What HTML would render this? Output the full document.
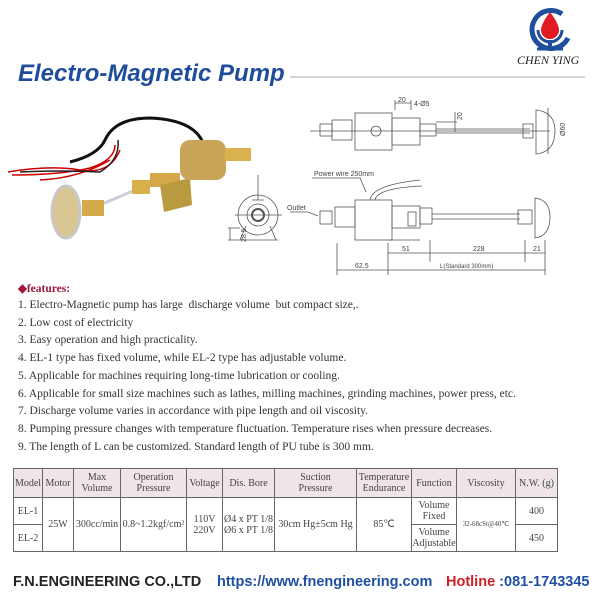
<!DOCTYPE html>
<html><head><meta charset="utf-8">
<style>
body{margin:0;width:600px;height:600px;background:#fff;position:relative;overflow:hidden;font-family:"Liberation Serif",serif;color:#333}
.a{position:absolute;white-space:nowrap}
table{position:absolute;left:13px;top:468px;border-collapse:collapse;font-family:"Liberation Serif",serif;font-size:10px;color:#444;width:545px}
td{border:1px solid #666;text-align:center;padding:0;line-height:11px}
tr.h td{background:#efe4ea;height:28px}
</style></head><body>
<svg class="a" style="left:0;top:0" width="600" height="300">
 <!-- logo -->
 <path d="M562 14 A19 19 0 1 0 568 38" fill="none" stroke="#1d4f9c" stroke-width="5"/>
 <path d="M538 30 A12 12 0 0 0 562 30" fill="none" stroke="#1d4f9c" stroke-width="3"/>
 <path d="M550 12 Q541 24 541 30 A9 9 0 0 0 559 30 Q559 24 550 12Z" fill="#e01b24"/>
 <rect x="548" y="40" width="4" height="9" fill="#1d4f9c"/>
 <path d="M537 49 H563" stroke="#1d4f9c" stroke-width="3"/>
 <line x1="290" y1="77" x2="585" y2="77" stroke="#aaa" stroke-width="1"/>
 <!-- photo -->
 <path d="M205 150 Q200 120 150 118 Q115 118 105 140 Q98 155 70 162" fill="none" stroke="#111" stroke-width="3"/>
 <path d="M8 172 Q50 165 80 170 Q110 175 120 150 M12 175 Q60 175 90 168 Q115 160 115 145 M40 180 Q80 178 110 160" fill="none" stroke="#c00" stroke-width="1.5"/>
 <path d="M20 172 Q60 170 100 172 Q120 160 118 140" fill="none" stroke="#222" stroke-width="1.5"/>
 <line x1="100" y1="205" x2="135" y2="190" stroke="#ccd" stroke-width="3"/>
 <ellipse cx="66" cy="212" rx="14" ry="26" fill="#d9c692" stroke="#c8c8c8" stroke-width="3"/>
 <rect x="82" y="200" width="22" height="16" fill="#d4a94a"/>
 <rect x="132" y="180" width="18" height="14" fill="#d8b04c"/>
 <rect x="150" y="173" width="30" height="14" fill="#d4a84a"/>
 <path d="M160 185 L190 178 L192 205 L164 212 Z" fill="#b99a3f"/>
 <rect x="180" y="140" width="46" height="40" rx="10" fill="#c9a55a"/>
 <rect x="225" y="148" width="26" height="13" fill="#d9b14f"/>
 <!-- side view -->
 <g fill="none" stroke="#555" stroke-width="0.8">
 <circle cx="258" cy="215" r="20"/><circle cx="258" cy="215" r="11"/><circle cx="258" cy="215" r="6" stroke-width="2"/>
 <path d="M240 240 L246 226 M276 240 L270 226 M238 240 H278 M258 175 V200 M252 200 H264 M235 215 H282 M228 228 H240 M228 240 H238 M230 228 V240"/>
 </g>
 <text x="246" y="242" font-size="7" font-family="Liberation Sans" fill="#444" transform="rotate(-90 246 242)">28.5</text>
 <!-- top view -->
 <g fill="none" stroke="#555" stroke-width="0.8">
 <rect x="320" y="124" width="12" height="12"/><rect x="332" y="120" width="20" height="20"/>
 <rect x="355" y="113" width="37" height="37"/><circle cx="376" cy="131" r="5"/>
 <rect x="392" y="118" width="28" height="27"/>
 <rect x="420" y="124" width="16" height="12"/>
 <path d="M436 129 H530 M436 133 H530 M310 131 H550"/>
 <rect x="523" y="124" width="10" height="14"/>
 <path d="M536 110 Q555 112 555 131 Q555 152 536 154 Z"/>
 <path d="M395 100 V110 M411 100 V110 M395 103 H411 M436 122 H457 M455 112 V132 M548 108 V154"/>
 </g>
 <text x="398" y="102" font-size="7" font-family="Liberation Sans" fill="#444">20</text>
 <text x="414" y="106" font-size="7" font-family="Liberation Sans" fill="#444">4-Ø5</text>
 <text x="462" y="120" font-size="7" font-family="Liberation Sans" fill="#444" transform="rotate(-90 462 120)">20</text>
 <text x="565" y="136" font-size="7" font-family="Liberation Sans" fill="#444" transform="rotate(-90 565 136)">Ø60</text>
 <!-- front view -->
 <g fill="none" stroke="#555" stroke-width="0.8">
 <rect x="320" y="211" width="12" height="13"/><rect x="335" y="207" width="20" height="20"/>
 <rect x="355" y="200" width="37" height="40"/>
 <rect x="392" y="206" width="28" height="22"/><rect x="408" y="212" width="8" height="14"/>
 <rect x="420" y="208" width="12" height="16"/>
 <path d="M432 214 H520 M432 219 H520"/>
 <rect x="518" y="210" width="14" height="14"/>
 <path d="M535 198 Q550 200 550 217 Q550 236 535 238 Z"/>
 <path d="M370 200 Q372 185 420 180 M375 200 Q377 188 422 186"/>
 <path d="M312 178 H360 L366 192 M290 212 H308 L318 216"/>
 <path d="M337 243 V275 M388 243 V275 M388 250 V262 M430 240 V262 M525 240 V262 M545 240 V275 M388 253 H545 M337 270 H545 M388 240 H420"/>
 </g>
 <text x="314" y="176" font-size="7" font-family="Liberation Sans" fill="#444">Power wire  250mm</text>
 <text x="287" y="210" font-size="7" font-family="Liberation Sans" fill="#444">Outlet</text>
 <text x="402" y="251" font-size="7" font-family="Liberation Sans" fill="#444">51</text>
 <text x="473" y="251" font-size="7" font-family="Liberation Sans" fill="#444">228</text>
 <text x="533" y="251" font-size="7" font-family="Liberation Sans" fill="#444">21</text>
 <text x="355" y="268" font-size="7" font-family="Liberation Sans" fill="#444">62.5</text>
 <text x="440" y="268" font-size="6" font-family="Liberation Sans" fill="#444">L(Standard 300mm)</text>
</svg>
<div class="a" style="left:517px;top:53px;font-size:12px;font-style:italic;color:#222">CHEN YING</div>
<div class="a" style="left:18px;top:60px;font:italic bold 24px 'Liberation Sans',sans-serif;color:#1f4d9c">Electro-Magnetic Pump</div>
<div class="a" style="left:18px;top:281px;font-size:11.5px;font-weight:bold;color:#a0153a">◆features:</div>
<div class="a" style="left:18px;top:297px;font-size:11.5px;line-height:17.7px;color:#333">
1. Electro-Magnetic pump has large&nbsp; discharge volume&nbsp; but compact size,.<br>
2. Low cost of electricity<br>
3. Easy operation and high practicality.<br>
4. EL-1 type has fixed volume, while EL-2 type has adjustable volume.<br>
5. Applicable for machines requiring long-time lubrication or cooling.<br>
6. Applicable for small size machines such as lathes, milling machines, grinding machines, power press, etc.<br>
7. Discharge volume varies in accordance with pipe length and oil viscosity.<br>
8. Pumping pressure changes with temperature fluctuation. Temperature rises when pressure decreases.<br>
9. The length of L can be customized. Standard length of PU tube is 300 mm.</div>
<table>
<tr class="h"><td style="width:28px">Model</td><td style="width:30px">Motor</td><td style="width:46px">Max<br>Volume</td><td style="width:65px">Operation<br>Pressure</td><td style="width:35px">Voltage</td><td style="width:51px">Dis. Bore</td><td style="width:81px">Suction<br>Pressure</td><td style="width:54px">Temperature<br>Endurance</td><td style="width:44px">Function</td><td style="width:58px">Viscosity</td><td>N.W. (g)</td></tr>
<tr style="height:27px"><td>EL-1</td><td rowspan="2">25W</td><td rowspan="2">300cc/min</td><td rowspan="2">0.8~1.2kgf/cm²</td><td rowspan="2">110V<br>220V</td><td rowspan="2">Ø4 x PT 1/8<br>Ø6 x PT 1/8</td><td rowspan="2">30cm Hg±5cm Hg</td><td rowspan="2">85℃</td><td>Volume<br>Fixed</td><td rowspan="2" style="font-size:7px">32-68cSt@40℃</td><td>400</td></tr>
<tr style="height:27px"><td>EL-2</td><td>Volume<br>Adjustable</td><td>450</td></tr>
</table>
<div class="a" style="left:13px;top:574px;font:bold 14.5px 'Liberation Sans',sans-serif;color:#222">F.N.ENGINEERING CO.,LTD</div>
<div class="a" style="left:217px;top:574px;font:bold 14.5px 'Liberation Sans',sans-serif;color:#1f4fa0">https://www.fnengineering.com</div>
<div class="a" style="left:446px;top:574px;font:bold 14.5px 'Liberation Sans',sans-serif;color:#d21f26">Hotline <span style="color:#1f4fa0">:081-1743345</span></div>
</body></html>
